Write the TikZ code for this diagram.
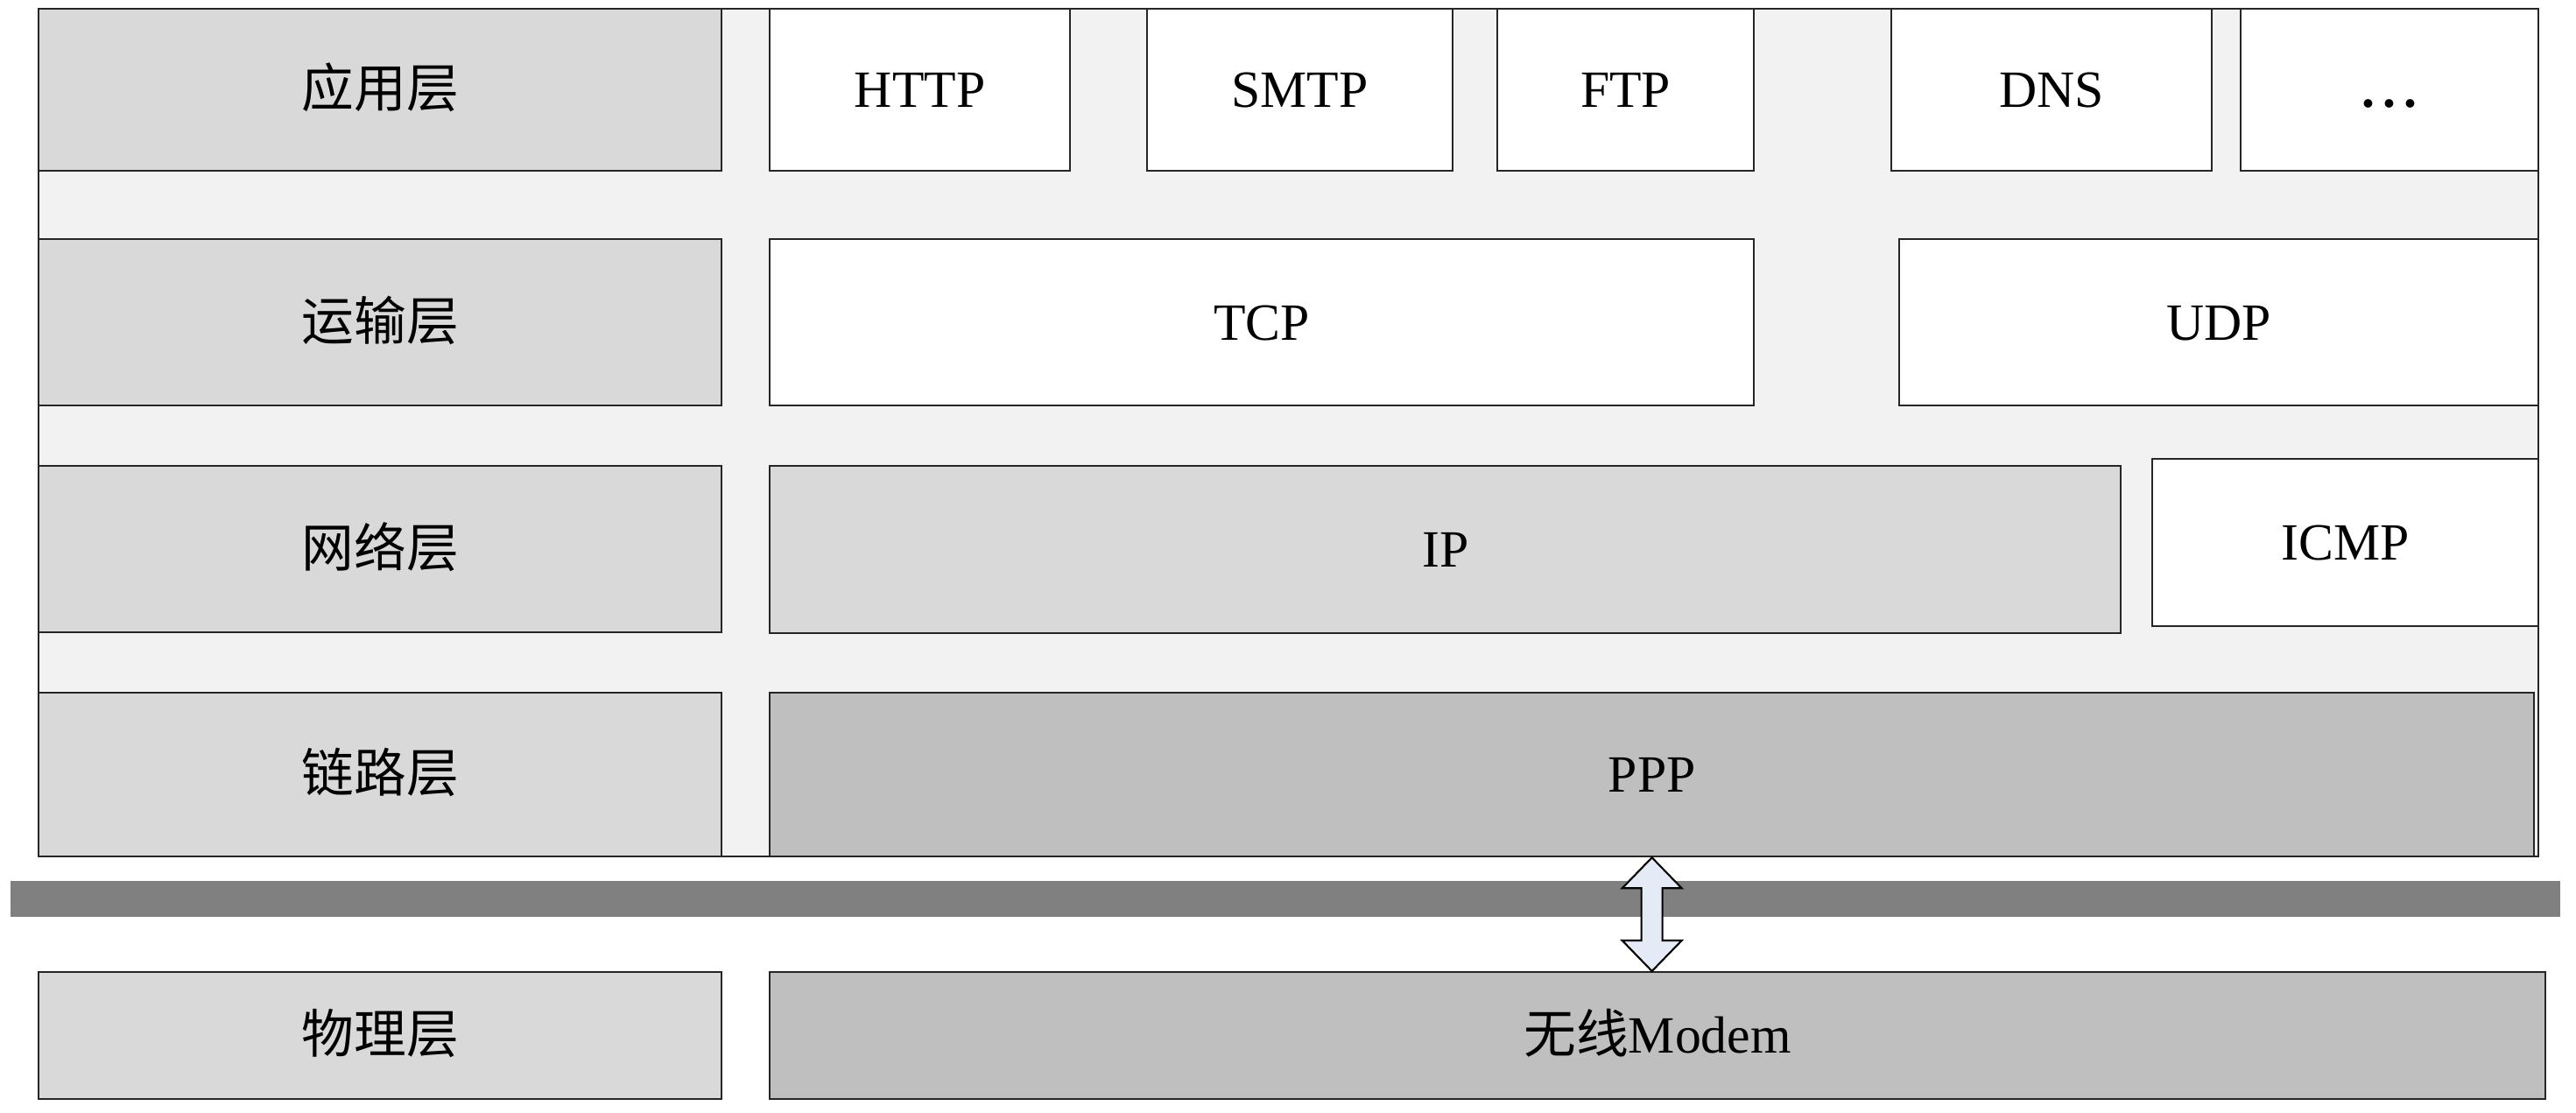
\documentclass[tikz,border=0pt]{standalone}
\usepackage{fontspec}
\setmainfont{Liberation Serif}
\newfontfamily\cjk{Noto Sans CJK SC}
\usepackage{xcolor}
\usetikzlibrary{calc}

\definecolor{panelgray}{HTML}{F2F2F2}
\definecolor{layergray}{HTML}{D9D9D9}
\definecolor{linkgray}{HTML}{BFBFBF}
\definecolor{bargray}{HTML}{808080}
\definecolor{arrowblue}{HTML}{E4EAF6}

\begin{document}
\begin{tikzpicture}[
  font=\fontsize{17}{20}\selectfont,
  box/.style={draw=black!85, line width=0.65pt, anchor=north west, inner sep=0pt,
    align=center, text height=0.4cm, text depth=0pt},
  layer/.style={box, fill=layergray, minimum width=7.80cm, font=\fontsize{17}{20}\selectfont\cjk},
  proto/.style={box, fill=white},
  dblarrow/.style={draw=black, line width=0.6pt, fill=arrowblue, line join=miter}
]
\useasboundingbox (0,0) rectangle (29.42,-12.71);
% background of the stack
\node[box, fill=panelgray, minimum width=28.55cm, minimum height=9.68cm] (stack) at (0.43,-0.09) {};
% layer names
\node[layer, minimum height=1.85cm] (app) at (0.43,-0.09) {应用层};
\node[layer, minimum height=1.90cm] (trans) at (0.43,-2.72) {运输层};
\node[layer, minimum height=1.90cm] (net) at (0.43,-5.31) {网络层};
\node[layer, minimum height=1.87cm] (link) at (0.43,-7.90) {链路层};
\node[layer, minimum height=1.45cm] (phys) at (0.43,-11.09) {物理层};
% application layer
\node[proto, minimum width=3.43cm, minimum height=1.85cm] (http) at (8.78,-0.09) {HTTP};
\node[proto, minimum width=3.49cm, minimum height=1.85cm] (smtp) at (13.09,-0.09) {SMTP};
\node[proto, minimum width=2.93cm, minimum height=1.85cm] (ftp) at (17.09,-0.09) {FTP};
\node[proto, minimum width=3.66cm, minimum height=1.85cm] (dns) at (21.59,-0.09) {DNS};
\node[proto, minimum width=3.40cm, minimum height=1.85cm] (more) at (25.58,-0.09) {\textbf{.\kern2.6pt.\kern2.6pt.}};
% transport layer
\node[proto, minimum width=11.24cm, minimum height=1.90cm] (tcp) at (8.78,-2.72) {TCP};
\node[proto, minimum width=7.30cm, minimum height=1.90cm] (udp) at (21.68,-2.72) {UDP};
% network layer
\node[box, fill=layergray, minimum width=15.43cm, minimum height=1.91cm] (ip) at (8.78,-5.31) {IP};
\node[proto, minimum width=4.41cm, minimum height=1.91cm] (icmp) at (24.57,-5.23) {ICMP};
% link layer
\node[box, fill=linkgray, minimum width=20.15cm, minimum height=1.87cm] (ppp) at (8.78,-7.90) {PPP};
% interface bar
\node[anchor=north west, fill=bargray, inner sep=0pt, minimum width=29.12cm, minimum height=0.41cm] (bar) at (0.11,-10.05) {};
% physical layer
\node[box, fill=linkgray, minimum width=20.28cm, minimum height=1.45cm] (modem) at (8.78,-11.09) {{\cjk 无线}Modem};
% link between PPP and modem
\coordinate (tipa) at (ppp.south);
\coordinate (tipb) at (modem.north -| ppp.south);
\draw[dblarrow] (tipa) -- ++(0.34,-0.35) -- ++(-0.22,0) -- ($(tipb)+(0.12,0.35)$)
  -- ++(0.22,0) -- (tipb) -- ++(-0.34,0.35) -- ++(0.22,0)
  -- ($(tipa)+(-0.12,-0.35)$) -- ++(-0.22,0) -- cycle;
\end{tikzpicture}
\end{document}
